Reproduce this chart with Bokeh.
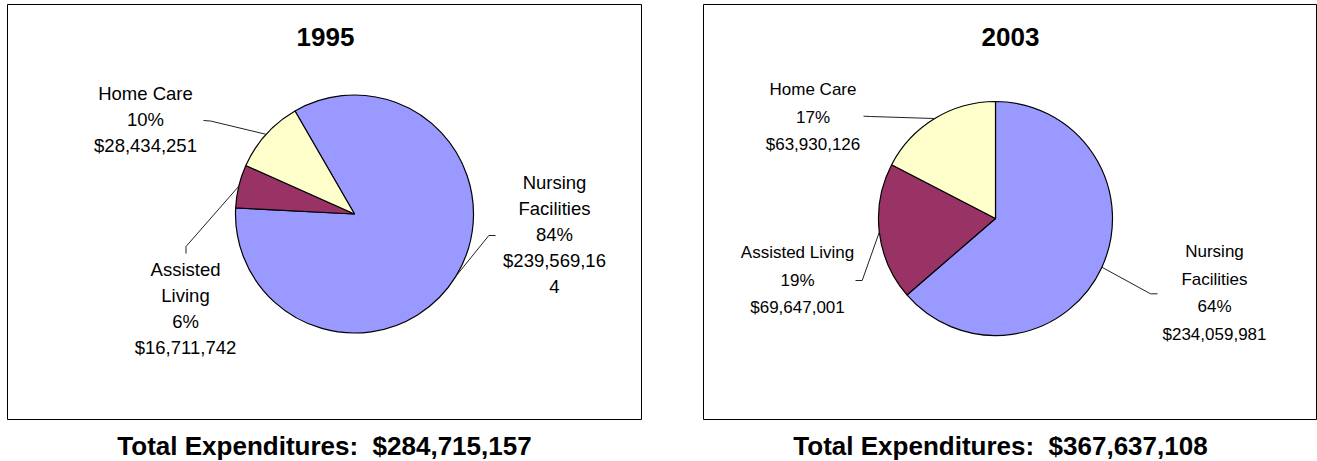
import math
from bokeh.plotting import figure
from bokeh.models import ColumnDataSource
from bokeh.core.properties import value
from bokeh.embed import file_html
from bokeh.resources import INLINE

# ---------------- data ----------------
categories = ["Nursing Facilities", "Assisted Living", "Home Care"]
years = ["1995", "2003"]
values_1995 = [239569164, 16711742, 28434251]
values_2003 = [234059981, 69647001, 63930126]
colors = ["#9999FF", "#993366", "#FFFFCC"]

# ---------------- layout ----------------
W, H = 1317, 461
panels = [
    dict(values=values_1995, year=years[0], box=(7, 641, 4, 419), center=(354, 213.5), r=119,
         start=-30.0, title_x=325, title_y=36, total_x=324, total_y=445.5,
         font="Liberation Sans", size=18.5, wrap=11, spacing=26.1,
         labels=[(554, 181.5, [(495, 235), (488.3, 235)]),
                 (185, 269, [(185.5, 253), (185.5, 246)]),
                 (145, 92.8, [(203, 120), (210, 120.5)])]),
    dict(values=values_2003, year=years[1], box=(703, 1316, 4, 419), center=(995, 218), r=117,
         start=0.0, title_x=1010, title_y=36.5, total_x=1000, total_y=445.5,
         font="Liberation Sans", size=17, wrap=16, spacing=27.8,
         labels=[(1214, 250.8, [(1157, 293.3), (1150, 293.3)]),
                 (797, 251.7, [(855, 280), (861.7, 280)]),
                 (812.5, 88.8, [(863, 115.7), (870, 116)])]),
]


def wrap(text, width):
    out = []
    for word in text.split(" "):
        if out and len(out[-1]) + 1 + len(word) <= width:
            out[-1] += " " + word
        else:
            while len(word) > width:
                out.append(word[:width])
                word = word[width:]
            out.append(word)
    return out


p = figure(width=W, height=H, x_range=(0, W), y_range=(H, 0), output_backend="svg",
           toolbar_location=None, min_border=0)
p.axis.visible = False
p.grid.visible = False
p.outline_line_color = None
p.background_fill_color = "white"
p.border_fill_color = "white"

for pan in panels:
    vals = pan["values"]
    total = sum(vals)
    cx, cy = pan["center"]
    r = pan["r"]
    # box
    l, rt, t, b = pan["box"]
    p.quad(left=[l], right=[rt], top=[t], bottom=[b], fill_color=None, line_color="black", line_width=1)

    # wedges: clockwise from 12 o'clock, starting at pan["start"] degrees
    th0 = []
    th1 = []
    acc = pan["start"]
    for v in vals:
        th0.append(acc)
        acc += 360.0 * v / total
        th1.append(acc)
    src = ColumnDataSource(dict(
        x=[cx] * len(vals), y=[cy] * len(vals),
        start=[math.radians(90 - e) for e in th1],
        end=[math.radians(90 - s) for s in th0],
        color=colors,
    ))
    p.wedge(x="x", y="y", radius=r, start_angle="start", end_angle="end", direction="anticlock",
            fill_color="color", line_color="black", line_width=1.2, source=src)

    # labels and leader lines
    for i, (cat, v) in enumerate(zip(categories, vals)):
        lx, ly, pts = pan["labels"][i]
        mid = math.radians((th0[i] + th1[i]) / 2)
        ex = cx + r * math.sin(mid)
        ey = cy - r * math.cos(mid)
        xs = [q[0] for q in pts] + [ex]
        ys = [q[1] for q in pts] + [ey]
        p.line(xs, ys, line_color="#222222", line_width=1)
        lines = wrap(cat, pan["wrap"]) + [f"{round(100 * v / total)}%"] + wrap(f"${v:,}", pan["wrap"])
        p.text(x=[lx] * len(lines), y=[ly + k * pan["spacing"] for k in range(len(lines))], text=lines,
               text_font=value(pan["font"]), text_font_size=value(f"{pan['size']}px"),
               text_align="center", text_baseline="middle", text_color="black")

    # title and total
    p.text(x=[pan["title_x"]], y=[pan["title_y"]], text=[pan["year"]],
           text_font=value("Liberation Sans"), text_font_size=value("26px"), text_font_style="bold",
           text_align="center", text_baseline="middle", text_color="black")
    p.text(x=[pan["total_x"]], y=[pan["total_y"]], text=[f"Total Expenditures:\u00a0 ${total:,}"],
           text_font=value("Liberation Sans"), text_font_size=value("26px"), text_font_style="bold",
           text_align="center", text_baseline="middle", text_color="black")

open("out.html", "w").write(file_html(p, INLINE))
